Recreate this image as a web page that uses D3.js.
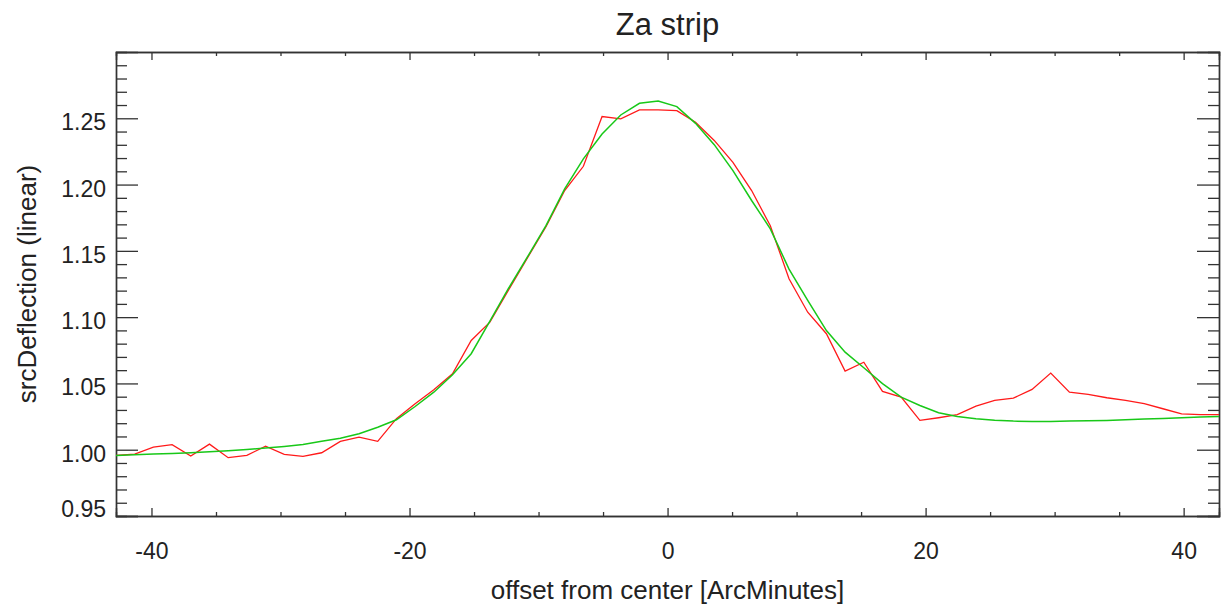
<!DOCTYPE html>
<html>
<head>
<meta charset="utf-8">
<script src="https://cdn.jsdelivr.net/npm/d3@7"></script>
<style>
  body { margin: 0; background: #fff; }
  svg text { font-family: Helvetica, Arial, "Liberation Sans", sans-serif; fill: #222; }
</style>
</head>
<body>
<div id="chart"></div>
<script>
// offsets (arcmin), 60 samples
var xStart = -42.75, xStep = 1.449;
var offsets = d3.range(60).map(function (i) { return xStart + i * xStep; });

// measured deflection (red)
var measured = [
  0.9957, 0.9967, 1.0020, 1.0038, 0.9952, 1.0042, 0.9940, 0.9957, 1.0027, 0.9965,
  0.9950, 0.9977, 1.0063, 1.0095, 1.0063, 1.0234, 1.0347, 1.0452, 1.0573, 1.0824,
  1.0962, 1.1206, 1.1445, 1.1683, 1.1955, 1.2138, 1.2513, 1.2496, 1.2563, 1.2563,
  1.2558, 1.2470, 1.2333, 1.2168, 1.1955, 1.1690, 1.1290, 1.1037, 1.0875, 1.0593,
  1.0660, 1.0440, 1.0397, 1.0221, 1.0241, 1.0264, 1.0329, 1.0372, 1.0389, 1.0455,
  1.0578, 1.0434, 1.0417, 1.0392, 1.0372, 1.0347, 1.0309, 1.0271, 1.0264, 1.0264
];

// fitted curve (green)
var fitted = [
  0.9957, 0.9962, 0.9967, 0.9972, 0.9977, 0.9985, 0.9992, 1.0002, 1.0012, 1.0025,
  1.0040, 1.0063, 1.0087, 1.0121, 1.0170, 1.0226, 1.0326, 1.0434, 1.0565, 1.0724,
  1.0970, 1.1218, 1.1452, 1.1690, 1.1968, 1.2194, 1.2382, 1.2525, 1.2613, 1.2631,
  1.2588, 1.2462, 1.2301, 1.2105, 1.1880, 1.1666, 1.1362, 1.1126, 1.0899, 1.0736,
  1.0618, 1.0498, 1.0397, 1.0334, 1.0279, 1.0251, 1.0234, 1.0223, 1.0216, 1.0213,
  1.0213, 1.0216, 1.0219, 1.0221, 1.0226, 1.0231, 1.0236, 1.0241, 1.0246, 1.0251
];

var xMajor = [-40, -20, 0, 20, 40];
var yMajor = [0.95, 1.00, 1.05, 1.10, 1.15, 1.20, 1.25];

var W = 1224, H = 608;
var m = { left: 116, right: 1219, top: 52, bottom: 516 };

var svg = d3.select("#chart").append("svg")
  .attr("width", W).attr("height", H);

var x = d3.scaleLinear().domain(d3.extent(offsets)).range([m.left, m.right]);
var y = d3.scaleLinear().domain([0.95, 1.30]).range([m.bottom, m.top]);

var axisColor = "#333";

// minor ticks: every 5 on x, every 0.01 on y
var xMinor = d3.range(-40, 41, 5).filter(function (v) { return xMajor.indexOf(v) < 0; });
var yMinor = d3.range(96, 130).filter(function (v) { return v % 5 !== 0; })
  .map(function (v) { return v / 100; });

// bottom & top axes
svg.append("g").attr("transform", "translate(0," + m.bottom + ")")
  .call(d3.axisBottom(x).tickValues(xMajor).tickSize(-8).tickPadding(27)
    .tickFormat(function (d) { return String(d); }));
svg.append("g").attr("transform", "translate(0," + m.bottom + ")")
  .call(d3.axisBottom(x).tickValues(xMinor).tickSize(-4).tickFormat(""));
svg.append("g").attr("transform", "translate(0," + m.top + ")")
  .call(d3.axisTop(x).tickValues(xMajor).tickSize(-8).tickFormat(""));
svg.append("g").attr("transform", "translate(0," + m.top + ")")
  .call(d3.axisTop(x).tickValues(xMinor).tickSize(-4).tickFormat(""));

// left & right axes
var gLeft = svg.append("g").attr("transform", "translate(" + m.left + ",0)")
  .call(d3.axisLeft(y).tickValues(yMajor).tickSize(-22).tickPadding(10).tickFormat(d3.format(".2f")));
svg.append("g").attr("transform", "translate(" + m.left + ",0)")
  .call(d3.axisLeft(y).tickValues(yMinor).tickSize(-11).tickFormat(""));
svg.append("g").attr("transform", "translate(" + m.right + ",0)")
  .call(d3.axisRight(y).tickValues(yMajor).tickSize(-22).tickFormat(""));
svg.append("g").attr("transform", "translate(" + m.right + ",0)")
  .call(d3.axisRight(y).tickValues(yMinor).tickSize(-11).tickFormat(""));

svg.selectAll(".domain").attr("stroke", axisColor).attr("stroke-width", 1.4);
svg.selectAll(".tick line").attr("stroke", axisColor).attr("stroke-width", 1.3);
svg.selectAll(".tick text").attr("font-size", 23).attr("fill", "#222")
  .style("font-family", "Helvetica, Arial, 'Liberation Sans', sans-serif");

// y labels sit a little below their ticks; the bottom one is lifted above the corner
gLeft.selectAll(".tick text").attr("dy", "0.5em");
gLeft.selectAll(".tick text").filter(function (d) { return d === 0.95; })
  .attr("dy", "0.0em");

// lines
var line = function (vals) {
  return d3.line().x(function (d, i) { return x(offsets[i]); })
    .y(function (d) { return y(d); })(vals);
};

svg.append("path").attr("d", line(measured))
  .attr("fill", "none").attr("stroke", "#ff1a1a").attr("stroke-width", 1.3);
svg.append("path").attr("d", line(fitted))
  .attr("fill", "none").attr("stroke", "#18c818").attr("stroke-width", 1.5);

// title and axis titles
svg.append("text").attr("x", (m.left + m.right) / 2).attr("y", 35)
  .attr("text-anchor", "middle").attr("font-size", 31).text("Za strip");

svg.append("text").attr("x", (m.left + m.right) / 2).attr("y", 599)
  .attr("text-anchor", "middle").attr("font-size", 26).text("offset from center [ArcMinutes]");

svg.append("text")
  .attr("transform", "translate(36," + (m.top + m.bottom) / 2 + ") rotate(-90)")
  .attr("text-anchor", "middle").attr("font-size", 26).text("srcDeflection (linear)");
</script>
</body>
</html>
